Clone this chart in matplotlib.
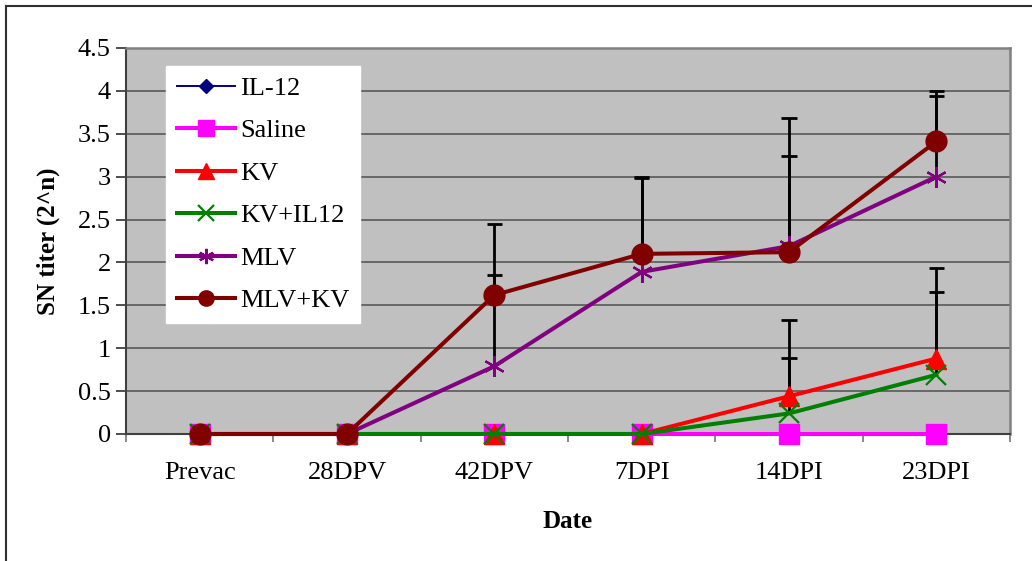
import matplotlib
matplotlib.use("Agg")
import matplotlib.pyplot as plt
import numpy as np

categories = ["Prevac", "28DPV", "42DPV", "7DPI", "14DPI", "23DPI"]
series = ["IL-12", "Saline", "KV", "KV+IL12", "MLV", "MLV+KV"]
il12 = [0, 0, 0, 0, 0, 0]
saline = [0, 0, 0, 0, 0, 0]
kv = [0, 0, 0, 0, 0.44, 0.88]
kv_il12 = [0, 0, 0, 0, 0.24, 0.69]
mlv = [0, 0, 0.79, 1.89, 2.19, 3.0]
mlv_kv = [0, 0, 1.62, 2.1, 2.12, 3.41]
# upper error extents (value + SD)
kv_err_top = [0, 0, 0, 0, 1.33, 1.93]
kv_il12_err_top = [0, 0, 0, 0, 0.89, 1.66]
mlv_err_top = [0, 0, 1.85, 2.99, 3.24, 3.94]
mlv_kv_err_top = [0, 0, 2.45, 3.0, 3.68, 4.0]
yticks = [0, 0.5, 1, 1.5, 2, 2.5, 3, 3.5, 4, 4.5]
ytick_labels = ["0", "0.5", "1", "1.5", "2", "2.5", "3", "3.5", "4", "4.5"]

plt.rcParams['font.family'] = ['Liberation Serif', 'DejaVu Serif']

fig = plt.figure(figsize=(10.32, 5.61), dpi=100)
ax = fig.add_axes([126/1032, 1 - 434/561, (1010-126)/1032, (434-48)/561])
ax.set_facecolor("#C0C0C0")

x = np.arange(len(categories))
ax.set_xlim(-0.5, len(categories) - 0.5)
ax.set_ylim(0, 4.5)

for yv in yticks[1:]:
    ax.axhline(yv, color="#606060", lw=1.3, zorder=1)

styles = [
    (il12, dict(color="#000080", marker="D", ms=7, lw=1.4, mfc="#000080", mec="#000080")),
    (saline, dict(color="#FF00FF", marker="s", ms=15, lw=2.9, mfc="#FF00FF", mec="#FF00FF")),
    (kv, dict(color="#FF0000", marker="^", ms=15, lw=2.9, mfc="#FF0000", mec="#FF0000")),
    (kv_il12, dict(color="#008000", marker="x", ms=14, lw=2.9, mew=1.6, mec="#008000")),
    (mlv, dict(color="#800080", marker=(6, 2, 0), ms=15, lw=2.9, mew=1.6, mec="#800080")),
    (mlv_kv, dict(color="#800000", marker="o", ms=15, lw=2.9, mfc="#800000", mec="#800000")),
]

cap_half = 0.052
tops = [None, None, kv_err_top, kv_il12_err_top, mlv_err_top, mlv_kv_err_top]
for vals, top in zip([il12, saline, kv, kv_il12, mlv, mlv_kv], tops):
    if top is None:
        continue
    vals_a = np.array(vals, dtype=float)
    top_a = np.array(top, dtype=float)
    mask = top_a > vals_a
    ax.vlines(x[mask], vals_a[mask], top_a[mask], color="black", lw=2, zorder=2)
    ax.hlines(top_a[mask], x[mask] - cap_half, x[mask] + cap_half, color="black", lw=2, zorder=2)

handles = []
for name, (vals, st) in zip(series, styles):
    h, = ax.plot(x, vals, label=name, zorder=3, clip_on=False, **st)
    handles.append(h)

ax.set_yticks(yticks)
ax.set_yticklabels(ytick_labels, fontsize=19)
ax.set_xticks(x)
ax.set_xticklabels(categories, fontsize=19)
ax.tick_params(axis="x", length=0, pad=20)
ax.tick_params(axis="y", length=7, width=1.3, color="#404040", pad=4)
ax.set_xticks(np.arange(len(categories) + 1) - 0.5, minor=True)
ax.tick_params(axis="x", which="minor", length=6, width=1.3, color="#808080", direction="out")

for s in ["left", "bottom"]:
    ax.spines[s].set_color("#404040")
    ax.spines[s].set_linewidth(1.5)
for s in ["top", "right"]:
    ax.spines[s].set_color("#808080")
    ax.spines[s].set_linewidth(1.8)

ax.set_ylabel("SN titer (2^n)", fontsize=18, fontweight="bold", labelpad=13)
ax.set_xlabel("Date", fontsize=18, fontweight="bold", labelpad=19)

leg = ax.legend(handles=handles, loc="upper left", bbox_to_anchor=(40/884, 1 - 18/386),
                frameon=True, fancybox=False, fontsize=19, borderpad=0.4,
                labelspacing=0.72, handlelength=2.2, handletextpad=0.2,
                borderaxespad=0)
leg.get_frame().set_facecolor("white")
leg.get_frame().set_edgecolor("white")
leg.get_frame().set_alpha(1)
for lh in leg.legend_handles:
    if lh.get_markersize() > 10:
        lh.set_markersize(11)

# outer frame (left and top visible)
fig.add_artist(plt.Line2D([6/1032, 6/1032], [0, 1 - 6/561], transform=fig.transFigure, color="#303030", lw=1.5))
fig.add_artist(plt.Line2D([6/1032, 1], [1 - 6/561, 1 - 6/561], transform=fig.transFigure, color="#303030", lw=1.5))

fig.savefig("out.png", dpi=100)
